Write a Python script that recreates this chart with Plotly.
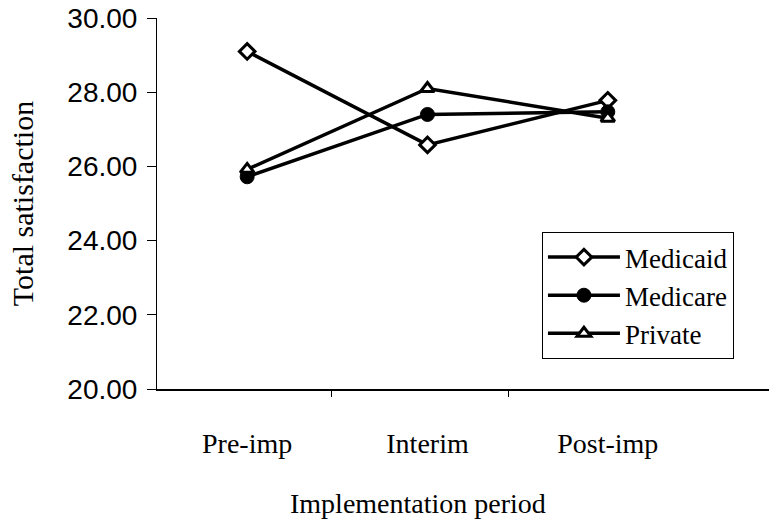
import plotly.graph_objects as go

categories = ["Pre-imp", "Interim", "Post-imp"]
medicaid = [29.1, 26.58, 27.78]
medicare = [25.72, 27.4, 27.47]
private = [25.92, 28.1, 27.3]
y_ticks = [20, 22, 24, 26, 28, 30]

xpos = list(range(len(categories)))
serif = "Liberation Serif"

fig = go.Figure()
fig.add_trace(go.Scatter(x=xpos, y=medicaid, name="Medicaid", mode="lines+markers",
                         line=dict(color="black", width=3.5),
                         marker=dict(symbol="diamond", size=12, color="white",
                                     line=dict(color="black", width=3))))
fig.add_trace(go.Scatter(x=xpos, y=medicare, name="Medicare", mode="lines+markers",
                         line=dict(color="black", width=3.5),
                         marker=dict(symbol="circle", size=14, color="black",
                                     line=dict(color="black", width=1))))
fig.add_trace(go.Scatter(x=xpos, y=private, name="Private", mode="lines+markers",
                         line=dict(color="black", width=3.5),
                         marker=dict(symbol="triangle-up", size=12, color="white",
                                     line=dict(color="black", width=3))))

# x-axis title placed under the category area (axis line runs on to the picture edge)
fig.add_annotation(text="Implementation period", xref="x", yref="paper",
                   x=0.95, y=0, yshift=-114, showarrow=False,
                   xanchor="center", yanchor="middle",
                   font=dict(family=serif, size=28, color="black"))

fig.update_layout(
    width=769, height=527,
    margin=dict(l=157, r=0, t=18, b=138),
    paper_bgcolor="white", plot_bgcolor="white",
    showlegend=True,
    legend=dict(x=0.629, y=0.423, xanchor="left", yanchor="top",
                bordercolor="black", borderwidth=1, bgcolor="white",
                font=dict(family=serif, size=27, color="black"),
                itemwidth=72, tracegroupgap=0),
    xaxis=dict(range=[-0.5, 2.894], tickvals=xpos, ticktext=categories,
               ticks="", showgrid=False, zeroline=False, automargin=False,
               showline=True, linecolor="black", linewidth=2,
               tickfont=dict(family=serif, size=28, color="black"),
               ticklabelstandoff=28,
               minor=dict(tickvals=[0.47, 1.45], ticks="outside", ticklen=6,
                          tickcolor="black", tickwidth=1)),
    yaxis=dict(range=[20, 30], tickvals=y_ticks, tickformat=".2f",
               ticks="outside", ticklen=9, tickcolor="black", tickwidth=1,
               ticklabelstandoff=4, automargin=False,
               showgrid=False, zeroline=False,
               showline=True, linecolor="black", linewidth=1,
               tickfont=dict(family="Liberation Sans", size=28, color="black"),
               title=dict(text="Total satisfaction", standoff=24,
                          font=dict(family=serif, size=30, color="black"))),
)

fig.write_html("out.html")
